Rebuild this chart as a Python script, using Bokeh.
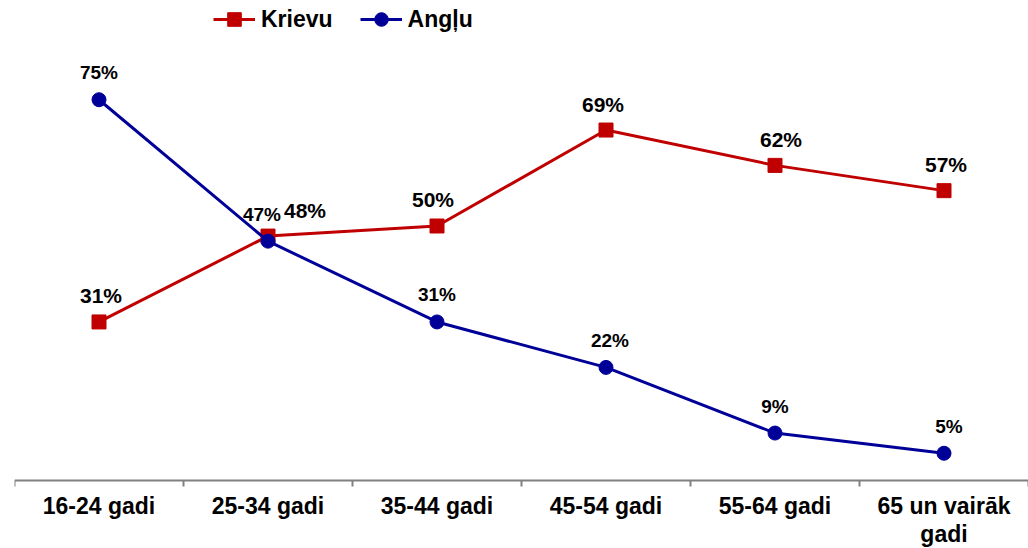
from bokeh.plotting import figure
from bokeh.models import ColumnDataSource, Range1d, FixedTicker, Legend, LegendItem
from bokeh.core.properties import value
from bokeh.embed import file_html
from bokeh.resources import INLINE

# ---- data ----
categories = ["16-24 gadi", "25-34 gadi", "35-44 gadi", "45-54 gadi", "55-64 gadi", "65 un vairāk\ngadi"]
series_names = ["Krievu", "Angļu"]
krievu = [31, 48, 50, 69, 62, 57]
anglu = [75, 47, 31, 22, 9, 5]

# ---- styles ----
RED = "#C00000"
BLUE = "#000099"
AXIS = "#808080"
FONT = "Liberation Sans"
krievu_label_dx = [2, 37, -4, -3, 6, 2]
anglu_label_dx = [0, -6, 0, 4, 0, 5]

xs = [i + 0.5 for i in range(len(categories))]

p = figure(width=1028, height=548,
           x_range=Range1d(0, len(categories)), y_range=Range1d(-13.86, 94.65),
           output_backend="svg", toolbar_location=None,
           min_border_left=14, min_border_right=0, min_border_top=0, min_border_bottom=0)
p.outline_line_color = None
p.grid.visible = False
p.yaxis.visible = False
p.background_fill_color = "white"
p.border_fill_color = "white"

xa = p.xaxis[0]
xa.fixed_location = -0.4
xa.ticker = FixedTicker(ticks=xs, minor_ticks=list(range(len(categories) + 1)))
xa.major_label_overrides = {xv: cat for xv, cat in zip(xs, categories)}
xa.axis_line_color = AXIS
xa.axis_line_width = 2
xa.major_tick_line_color = None
xa.major_tick_out = 0
xa.major_tick_in = 0
xa.minor_tick_out = 6
xa.minor_tick_in = 0
xa.minor_tick_line_color = AXIS
xa.minor_tick_line_width = 2
xa.major_label_standoff = 6
xa.major_label_text_font = FONT
xa.major_label_text_font_style = "bold"
xa.major_label_text_font_size = "23px"
xa.major_label_text_color = "black"
xa.major_label_text_line_height = 1.1

src_k = ColumnDataSource(dict(x=xs, y=krievu, t=[f"{v}%" for v in krievu], dx=krievu_label_dx))
src_a = ColumnDataSource(dict(x=xs, y=anglu, t=[f"{v}%" for v in anglu], dx=anglu_label_dx))

lk = p.line("x", "y", source=src_k, line_color=RED, line_width=3)
sk = p.scatter("x", "y", source=src_k, marker="square", size=14, fill_color=RED, line_color=RED)
la = p.line("x", "y", source=src_a, line_color=BLUE, line_width=3)
sa = p.scatter("x", "y", source=src_a, marker="circle", size=14, fill_color=BLUE, line_color=BLUE)

p.text("x", "y", text="t", source=src_k, x_offset="dx", y_offset=-26,
       text_align="center", text_baseline="middle", text_color="black",
       text_font=value(FONT), text_font_style="bold", text_font_size="21px")
p.text("x", "y", text="t", source=src_a, x_offset="dx", y_offset=-27,
       text_align="center", text_baseline="middle", text_color="black",
       text_font=value(FONT), text_font_style="bold", text_font_size="19px")

legend = Legend(items=[LegendItem(label=series_names[0], renderers=[lk, sk]),
                       LegendItem(label=series_names[1], renderers=[la, sa])],
                orientation="horizontal", location=(199, 512),
                glyph_width=42, glyph_height=34, label_standoff=6, spacing=27,
                padding=0, margin=0, border_line_color=None, background_fill_alpha=0,
                label_text_font=FONT, label_text_font_style="bold", label_text_font_size="23px",
                label_text_color="black")
p.add_layout(legend)

open("out.html", "w").write(file_html(p, INLINE))
